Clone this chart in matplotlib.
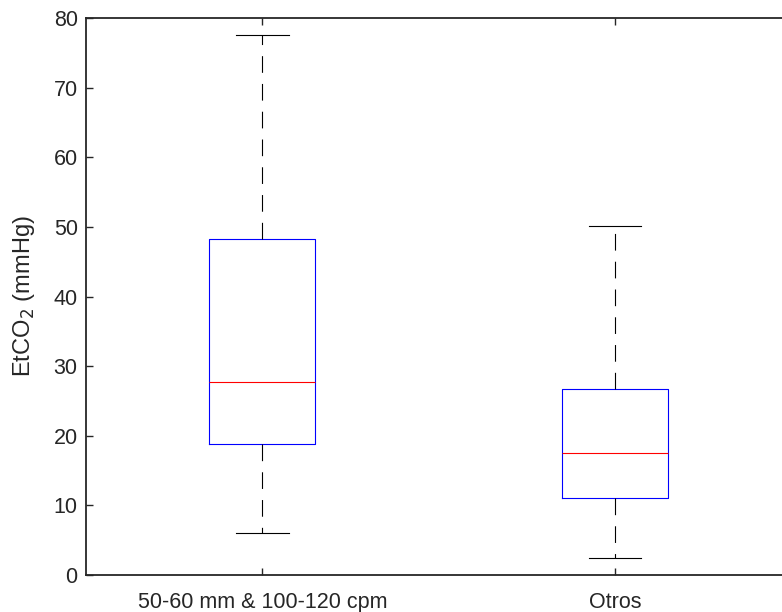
import matplotlib
matplotlib.use('Agg')
import matplotlib.pyplot as plt

# valores (boxplot estilo MATLAB)
grupos = ['50-60 mm & 100-120 cpm', 'Otros']
minimos = [6.0, 2.4]
q1 = [18.8, 11.0]
medianas = [27.7, 17.5]
q3 = [48.2, 26.7]
maximos = [77.5, 50.2]

plt.rcParams['font.family'] = ['Liberation Sans', 'DejaVu Sans']
plt.rcParams['lines.scale_dashes'] = False

stats = []
for i in range(len(grupos)):
    stats.append({'label': grupos[i], 'whislo': minimos[i], 'q1': q1[i],
                  'med': medianas[i], 'q3': q3[i], 'whishi': maximos[i],
                  'fliers': []})

fig = plt.figure(figsize=(7.82, 6.12), dpi=100)
ax = fig.add_axes([0.110, 0.0605, 0.902, 0.910])

ax.bxp(stats, positions=[1, 2], widths=0.3, capwidths=0.15, showfliers=False,
       boxprops=dict(color='blue', linewidth=0.8),
       medianprops=dict(color='red', linewidth=0.8),
       whiskerprops=dict(color='black', linewidth=0.8, linestyle=(0, (12, 8))),
       capprops=dict(color='black', linewidth=0.8))

ax.set_xlim(0.5, 2.5)
ax.set_ylim(0, 80)
ax.set_yticks(range(0, 81, 10))
ax.set_xticks([1, 2])
ax.set_xticklabels(grupos)
ax.tick_params(direction='in', length=5, width=1.0, labelsize=15.5,
               colors='#262626', top=True, right=True)
ax.tick_params(axis='x', pad=12)
ax.tick_params(axis='y', pad=6)
for s in ax.spines.values():
    s.set_linewidth(1.3)
    s.set_color('#262626')
ax.set_ylabel('EtCO$_2$ (mmHg)', fontsize=17, color='#262626', labelpad=12)

plt.savefig('out.png', dpi=100)
